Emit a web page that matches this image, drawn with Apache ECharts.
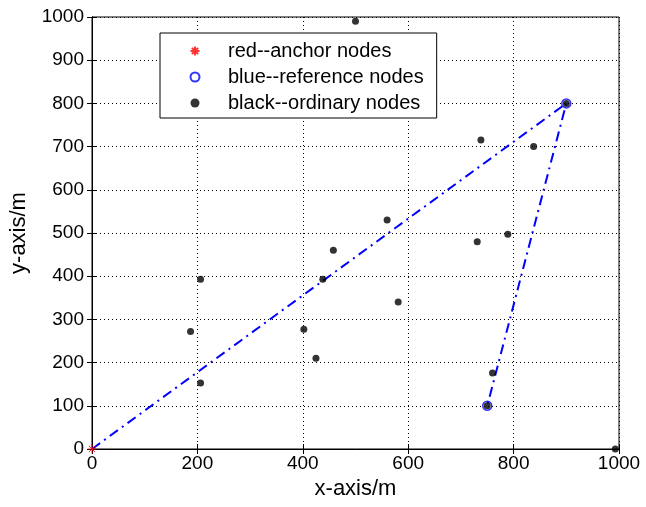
<!DOCTYPE html>
<html>
<head>
<meta charset="utf-8">
<script src="https://cdn.jsdelivr.net/npm/echarts@6/dist/echarts.min.js"></script>
<style>html,body{margin:0;padding:0;background:#fff}#c{width:646px;height:507px}</style>
</head>
<body>
<div id="c"></div>
<script>
const xTicks = [0, 200, 400, 600, 800, 1000];
const yTicks = [0, 100, 200, 300, 400, 500, 600, 700, 800, 900, 1000];
const anchorNodes = [[0, 0]];
const referenceNodes = [[900, 800], [750, 100]];
const ordinaryNodes = [
  [500, 990], [738, 715], [838, 700], [560, 530], [789, 497], [731, 480],
  [458, 460], [438, 393], [206, 393], [581, 340], [402, 277], [187, 272],
  [425, 210], [206, 153], [760, 176], [993, 0], [900, 800], [750, 100]
];
const pathNodes = [[0, 0], [900, 800], [750, 100]];
const legendNames = ['red--anchor nodes', 'blue--reference nodes', 'black--ordinary nodes'];

const FONT = "'Liberation Sans', Arial, sans-serif";
const chart = echarts.init(document.getElementById('c'), null, {renderer: 'canvas'});
const asterisk = 'path://M-1,0 L1,0 M0,-1 L0,1 M-0.7,-0.7 L0.7,0.7 M-0.7,0.7 L0.7,-0.7';

function baseAxis(extra) {
  return Object.assign({
    type: 'value', min: 0, max: 1000,
    axisLine: {show: true, lineStyle: {color: '#000', width: 1}},
    axisTick: {show: true, inside: true, length: 5, lineStyle: {color: '#000'}},
    splitLine: {show: false},
    axisLabel: {show: false}
  }, extra);
}

chart.setOption({
  animation: false,
  backgroundColor: '#fff',
  grid: {left: 90, right: 27, top: 17, bottom: 58, show: true, borderColor: '#000', borderWidth: 1, backgroundColor: '#fff'},
  legend: {
    data: legendNames,
    orient: 'vertical', left: 160, top: 33,
    backgroundColor: '#fff',
    borderColor: '#000', borderWidth: 1,
    padding: [7, 13, 4, 28],
    itemWidth: 56, itemHeight: 9, itemGap: 4,
    textStyle: {fontFamily: FONT, fontSize: 20, color: '#000', lineHeight: 22}
  },
  xAxis: [
    baseAxis({
      position: 'bottom', interval: 200,
      name: 'x-axis/m', nameLocation: 'middle', nameGap: 29,
      nameTextStyle: {fontFamily: FONT, fontSize: 22, color: '#000'},
      axisLabel: {show: true, fontFamily: FONT, fontSize: 19, color: '#000', margin: 5,
        formatter: v => xTicks.includes(v) ? String(v) : ''},
      splitLine: {show: true, lineStyle: {color: '#000', type: [1, 3], width: 1}}
    }),
    baseAxis({position: 'top', interval: 200})
  ],
  yAxis: [
    baseAxis({
      position: 'left', interval: 100,
      name: 'y-axis/m', nameLocation: 'middle', nameGap: 62,
      nameTextStyle: {fontFamily: FONT, fontSize: 22, color: '#000'},
      axisLabel: {show: true, fontFamily: FONT, fontSize: 19, color: '#000', margin: 8,
        formatter: v => yTicks.includes(v) ? String(v) : ''},
      splitLine: {show: true, lineStyle: {color: '#000', type: [1, 3], width: 1}}
    }),
    baseAxis({position: 'right', interval: 100})
  ],
  series: [
    {
      type: 'line', name: 'path', data: pathNodes, symbol: 'none', z: 2,
      lineStyle: {color: '#0000ff', width: 2, type: [10, 5, 2, 5]}
    },
    {
      type: 'scatter', name: legendNames[1], data: referenceNodes, symbol: 'circle', symbolSize: 9, z: 3,
      itemStyle: {color: 'rgba(0,0,0,0)', borderColor: '#0000ff', borderWidth: 1.5}
    },
    {
      type: 'scatter', name: legendNames[2], data: ordinaryNodes, symbol: 'circle', symbolSize: 7, z: 4,
      itemStyle: {color: '#000'}
    },
    {
      type: 'scatter', name: legendNames[0], data: anchorNodes, symbol: asterisk, symbolSize: 9, symbolKeepAspect: true, z: 5,
      itemStyle: {color: 'none', borderColor: '#ff0000', borderWidth: 1}
    }
  ]
});
</script>
</body>
</html>
